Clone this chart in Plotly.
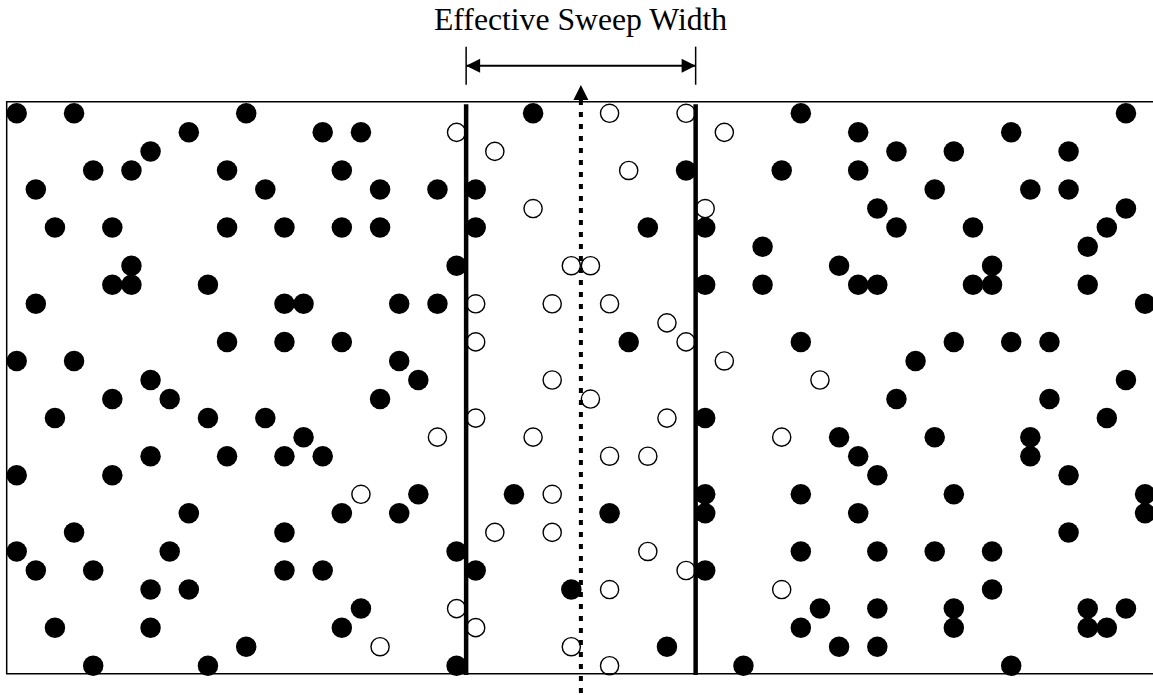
import plotly.graph_objects as go

# Dot grid positions (column, row); rows count down from the top
filled_col = [
    0, 3, 12, 27, 41, 58,
    9, 16, 18, 44, 52,
    7, 46, 49, 55,
    4, 6, 11, 17, 35, 40, 44,
    1, 13, 19, 22, 24, 48, 53, 55,
    45, 58,
    2, 5, 11, 14, 17, 19, 24, 33, 36, 46, 50, 57,
    39, 56,
    6, 23, 43, 51,
    5, 6, 10, 36, 39, 44, 45, 50, 51, 56,
    1, 14, 15, 20, 22, 59,
    11, 14, 17, 32, 41, 49, 52, 54,
    0, 3, 20, 47,
    7, 21, 58,
    5, 8, 19, 46, 54,
    2, 10, 13, 36, 57,
    15, 43, 48, 53,
    7, 11, 14, 16, 44, 53,
    0, 5, 45, 55,
    21, 26, 36, 41, 49, 59,
    9, 17, 20, 31, 36, 44, 59,
    3, 14, 55,
    0, 8, 23, 41, 45, 48, 51,
    1, 4, 14, 16, 24, 36,
    7, 9, 29, 51,
    18, 42, 45, 49, 56, 58,
    2, 7, 17, 41, 49, 56, 57,
    12, 34, 43, 45,
    4, 10, 23, 38, 52,
]
filled_row = [
    0, 0, 0, 0, 0, 0,
    1, 1, 1, 1, 1,
    2, 2, 2, 2,
    3, 3, 3, 3, 3, 3, 3,
    4, 4, 4, 4, 4, 4, 4, 4,
    5, 5,
    6, 6, 6, 6, 6, 6, 6, 6, 6, 6, 6, 6,
    7, 7,
    8, 8, 8, 8,
    9, 9, 9, 9, 9, 9, 9, 9, 9, 9,
    10, 10, 10, 10, 10, 10,
    12, 12, 12, 12, 12, 12, 12, 12,
    13, 13, 13, 13,
    14, 14, 14,
    15, 15, 15, 15, 15,
    16, 16, 16, 16, 16,
    17, 17, 17, 17,
    18, 18, 18, 18, 18, 18,
    19, 19, 19, 19,
    20, 20, 20, 20, 20, 20,
    21, 21, 21, 21, 21, 21, 21,
    22, 22, 22,
    23, 23, 23, 23, 23, 23, 23,
    24, 24, 24, 24, 24, 24,
    25, 25, 25, 25,
    26, 26, 26, 26, 26, 26,
    27, 27, 27, 27, 27, 27, 27,
    28, 28, 28, 28,
    29, 29, 29, 29, 29,
]

open_col = [31, 35, 23, 37, 25, 32, 27, 36, 29, 30, 24, 28, 31, 34, 24, 35,
            37, 28, 42, 30, 24, 34, 22, 27, 40, 31, 33, 18, 28, 25, 28, 33,
            35, 31, 40, 23, 24, 19, 29, 31]
open_row = [0, 0, 1, 1, 2, 3, 5, 5, 8, 8, 10, 10, 10, 11, 12, 12,
            13, 14, 14, 15, 16, 16, 17, 17, 17, 18, 18, 20, 20, 22, 22, 23,
            24, 25, 25, 26, 27, 28, 28, 29]

sweep_left = 23.5
sweep_right = 35.5
track = 29.5
label = "Effective Sweep Width"

fig = go.Figure()

fig.add_trace(go.Scatter(x=filled_col, y=filled_row, mode="markers",
                         marker=dict(size=20.5, color="black", line_width=0),
                         hoverinfo="skip", showlegend=False))
fig.add_trace(go.Scatter(x=open_col, y=open_row, mode="markers",
                         marker=dict(size=18.2, color="white",
                                     line=dict(color="black", width=1.4)),
                         hoverinfo="skip", showlegend=False))

# arrow heads (tip sits on the point)
fig.add_trace(go.Scatter(x=[sweep_left, sweep_right], y=[-2.5, -2.5], mode="markers",
                         marker=dict(symbol=["arrow-left", "arrow-right"], size=14,
                                     color="black", line_width=0),
                         hoverinfo="skip", showlegend=False))
fig.add_trace(go.Scatter(x=[track], y=[-1.49], mode="markers",
                         marker=dict(symbol="arrow-up", size=15, color="black", line_width=0),
                         hoverinfo="skip", showlegend=False))

# search area border (right side runs off the page)
fig.add_shape(type="rect", x0=-0.523, x1=61, y0=-0.61, y1=29.42,
              line=dict(color="black", width=1.5))

# sweep width boundaries
for xv in [sweep_left, sweep_right]:
    fig.add_shape(type="line", x0=xv, x1=xv, y0=-0.47, y1=29.48,
                  line=dict(color="black", width=4.5))
    fig.add_shape(type="line", x0=xv, x1=xv, y0=-3.5, y1=-1.5,
                  line=dict(color="black", width=1.5))

fig.add_shape(type="line", x0=sweep_left, x1=sweep_right, y0=-2.5, y1=-2.5,
              line=dict(color="black", width=2))

# search track
fig.add_shape(type="line", x0=track, x1=track, y0=-0.7, y1=32,
              line=dict(color="black", width=4, dash="5px,7px"))

fig.add_annotation(x=track, y=-4.92, text=label, showarrow=False,
                   font=dict(family="Liberation Serif", size=31.7, color="black"))

fig.update_xaxes(range=[-0.873, 59.414], visible=False, fixedrange=True)
fig.update_yaxes(range=[30.535, -5.948], visible=False, fixedrange=True)
fig.update_layout(width=1153, height=695, autosize=False,
                  margin=dict(l=0, r=0, t=0, b=0),
                  plot_bgcolor="white", paper_bgcolor="white",
                  hovermode=False)

# drop the default page margin so the figure fills the window
fig.write_html("out.html", config={"displayModeBar": False},
               post_script="document.body.style.margin='0';")
